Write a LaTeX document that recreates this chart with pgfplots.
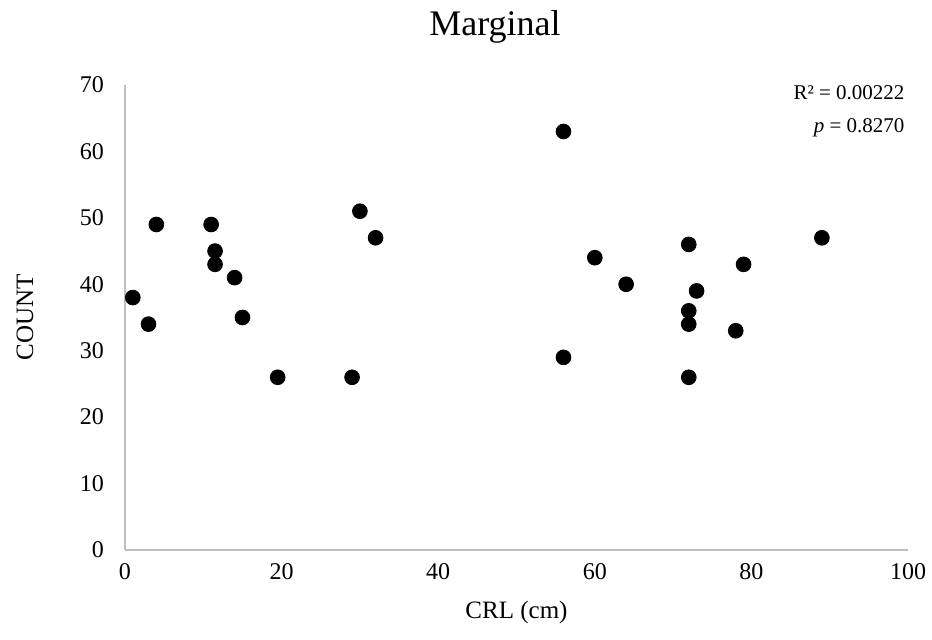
\documentclass[border=0pt]{standalone}
\usepackage{pgfplots}
\pgfplotsset{compat=1.18}
\usepackage{fontspec}
\setmainfont{Liberation Serif}
\begin{document}
\begin{tikzpicture}
\useasboundingbox (0,0) rectangle (466pt,320pt);
\begin{axis}[
  at={(62.5pt,45pt)}, anchor=south west,
  scale only axis, width=391.5pt, height=232.5pt,
  xmin=0, xmax=100, ymin=0, ymax=70,
  xtick={0,20,...,100}, ytick={0,10,...,70},
  axis lines*=left,
  axis line style={draw=black!25, line width=0.9pt, -},
  major tick length=0pt,
  tick style={draw=none},
  /pgf/number format/assume math mode=true,
  ticklabel style={font=\fontsize{12}{14}\selectfont},
  yticklabel style={xshift=-7pt},
  xticklabel style={yshift=-3pt},
  xlabel={CRL (cm)}, ylabel={COUNT},
  label style={font=\fontsize{12.5}{15}\selectfont},
  xlabel style={at={(axis description cs:0.5,0)}, anchor=center, yshift=-31pt},
  ylabel style={at={(axis description cs:0,0.5)}, anchor=center, rotate=0, yshift=50pt},
  title={Marginal},
  title style={font=\fontsize{18}{21}\selectfont, at={(axis description cs:0.4725,1)}, anchor=center, yshift=23pt},
  clip=false,
]
\addplot[only marks, mark=*, mark size=3.7pt, mark options={fill=black, draw=black}] coordinates {
(4,49) (11,49) (11.5,45) (11.5,43) (14,41) (1,38) (3,34) (15,35) (19.5,26) (29,26) (30,51) (32,47)
(56,63) (60,44) (64,40) (72,46) (79,43) (73,39) (72,36) (72,34) (78,33) (56,29) (72,26) (89,47)
};
\node[anchor=east, font=\fontsize{10.5}{12}\selectfont, inner sep=0pt] at (axis description cs:0.996,0.983) {R² = 0.00222};
\node[anchor=east, font=\fontsize{10.5}{12}\selectfont, inner sep=0pt] at (axis description cs:0.996,0.907) {\textit{p} = 0.8270};
\end{axis}
\end{tikzpicture}
\end{document}
